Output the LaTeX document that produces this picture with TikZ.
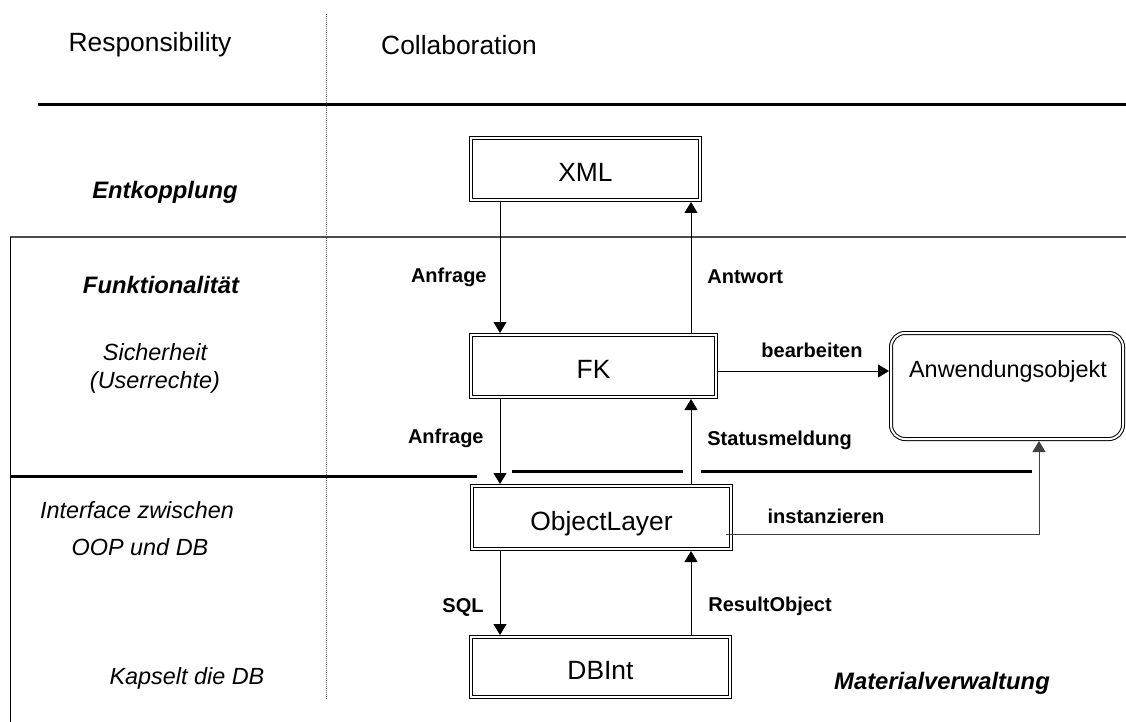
\documentclass[tikz,border=0pt]{standalone}
\usepackage{fontspec}
\setmainfont{Liberation Sans}
\usetikzlibrary{arrows.meta}
\begin{document}
\begin{tikzpicture}[x=0.5pt,y=-0.5pt,
  box/.style={draw, double, double distance=1pt, line width=0.5pt, inner sep=0pt,
    outer sep=1pt, text height=12.8pt, text depth=0pt, font=\fontsize{13.2}{15}\selectfont},
  conn/.style={line width=0.5pt, -{Triangle[length=5.5pt,width=6.5pt]}},
  lbl/.style={font=\fontsize{10}{12}\selectfont\bfseries, inner sep=0pt},
  role/.style={font=\fontsize{11.7}{14}\selectfont\itshape, inner sep=0pt},
  rolehead/.style={font=\fontsize{11.9}{14}\selectfont\bfseries\itshape, inner sep=0pt},
  head/.style={font=\fontsize{13.2}{15}\selectfont, inner sep=0pt},
  rule/.style={line width=1.5pt}]
\useasboundingbox (0,0) rectangle (1126,722);

% column divider and table rules
\draw[black!60, line width=0.4pt, dash pattern=on 0.5pt off 0.5pt] (326,14) -- (326,700);
\draw[rule] (38,105) -- (1126,105);
\draw[black!70, line width=1pt] (10,237.5) -- (1126,237.5);
\draw[line width=0.5pt] (10,237.5) -- (10,722);
\draw[rule] (10,476.5) -- (477,476.5);
\draw[rule] (512,471) -- (683,471);
\draw[rule] (701,471) -- (1032,471);

% headings
\node[head] (resp) at (150,45) {Responsibility};
\node[head] (coll) at (459,45) {Collaboration};

% responsibilities
\node[rolehead] (entk) at (165,192) {Entkopplung};
\node[rolehead] (funk) at (161,285) {Funktionalität};
\node[role] (sich) at (155,352) {Sicherheit};
\node[role] (user) at (155,382) {(Userrechte)};
\node[role] (intf) at (137,510) {Interface zwischen};
\node[role] (oop) at (140,547) {OOP und DB};
\node[role] (kaps) at (187,678) {Kapselt die DB};
\node[rolehead] (matv) at (942,683) {Materialverwaltung};

% classes
\node[box, minimum width=114.5pt, minimum height=31pt] (xml) at (585.5,169) {XML};
\node[box, minimum width=122.5pt, minimum height=31pt] (fk) at (593.5,366) {FK};
\node[box, minimum width=129.5pt, minimum height=31.5pt] (ol) at (601.5,517.5) {ObjectLayer};
\node[box, minimum width=129.5pt, minimum height=30pt] (db) at (600.5,667) {DBInt};
\node[box, rounded corners=7pt, minimum width=116pt, minimum height=53pt] (anw) at (1007,386) {};
\node[font=\fontsize{11.7}{14}\selectfont, inner sep=0pt] (anwt) at (1008,371) {Anwendungsobjekt};

% message flow
\coordinate (lx) at (500,0);
\coordinate (rx) at (691,0);
\coordinate (by) at (0,371);
\coordinate (iy) at (0,534);
\coordinate (ix) at (1039,0);
\draw[conn] (xml.south -| lx) -- (fk.north -| lx);
\draw[conn] (fk.north -| rx) -- (xml.south -| rx);
\draw[conn] (fk.south -| lx) -- (ol.north -| lx);
\draw[conn] (ol.north -| rx) -- (fk.south -| rx);
\draw[conn] (ol.south -| lx) -- (db.north -| lx);
\draw[conn] (db.north -| rx) -- (ol.south -| rx);
\draw[conn] (fk.east |- by) -- (anw.west |- by);
\path (ol.east |- iy) coordinate (ie0);
\draw[conn, black!75] ([xshift=-3.5pt]ie0) -- (ix |- iy) -- (anw.south -| ix);

% message labels
\node[lbl, anchor=east] (q1) at (487,277) {Anfrage};
\node[lbl, anchor=west] (a1) at (707,277) {Antwort};
\node[lbl, anchor=east] (q2) at (484,438) {Anfrage};
\node[lbl, anchor=west] (st) at (707,440) {Statusmeldung};
\node[lbl] (be) at (812,350) {bearbeiten};
\node[lbl] (in) at (826,516) {instanzieren};
\node[lbl, anchor=east] (sq) at (484,607) {SQL};
\node[lbl, anchor=west] (ro) at (708,606) {ResultObject};
\end{tikzpicture}
\end{document}
